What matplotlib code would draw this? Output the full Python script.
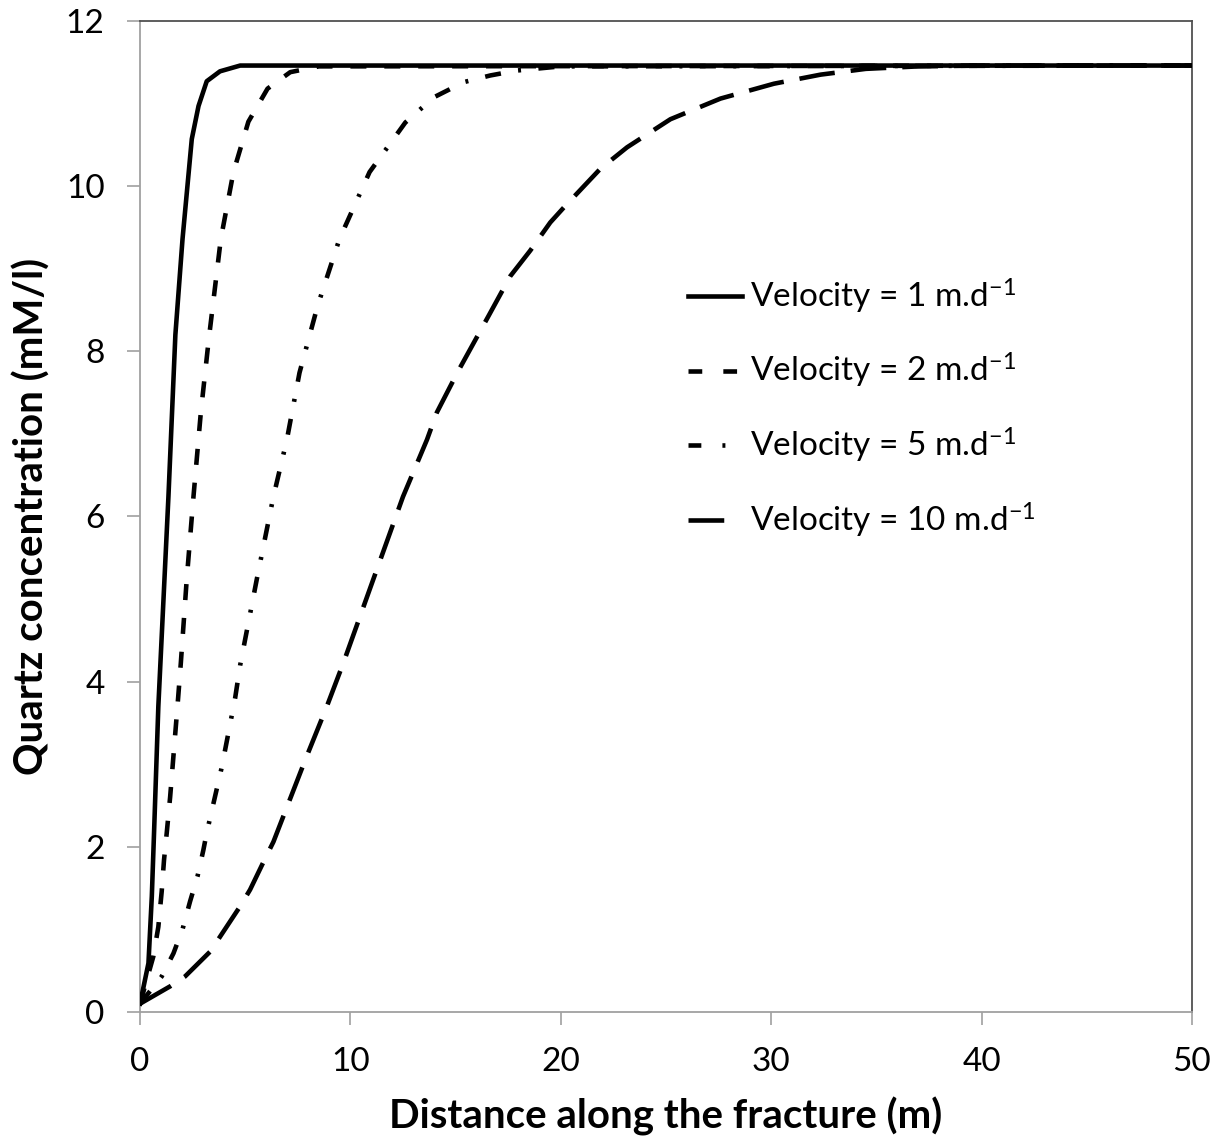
import matplotlib
matplotlib.use('Agg')
import matplotlib.pyplot as plt
from matplotlib.lines import Line2D

plt.rcParams['font.family'] = ['Lato', 'DejaVu Sans']
plt.rcParams['mathtext.fontset'] = 'custom'
plt.rcParams['mathtext.rm'] = 'Lato'
plt.rcParams['mathtext.it'] = 'Lato'

# values
x_v1 = [0, 0.4, 0.56, 0.67, 0.87, 1.35, 1.68, 2.02, 2.46, 2.78, 3.17, 3.8, 4.76, 50]
y_v1 = [0.1, 0.59, 1.4, 2.2, 3.7, 6.24, 8.2, 9.36, 10.57, 10.97, 11.27, 11.39, 11.46, 11.46]

x_v2 = [0, 0.63, 0.87, 1.03, 1.14, 1.27, 1.43, 1.81, 1.94, 2.22, 2.54, 2.89, 3.26,
        3.84, 4.44, 5.15, 6.06, 7.14, 8.5, 50]
y_v2 = [0.1, 0.67, 1.03, 1.46, 1.84, 2.17, 2.6, 3.8, 4.23, 5.24, 6.24, 7.26, 8.13,
        9.36, 10.17, 10.78, 11.18, 11.38, 11.45, 11.46]

x_v5 = [0, 1.03, 1.59, 2.03, 2.38, 2.73, 3.01, 3.17, 3.89, 4.52, 4.76, 5.55, 6.34,
        6.98, 7.58, 8.44, 9.48, 10.91, 12.61, 13.32, 14.0, 15.4, 16.65, 17.92, 20, 50]
y_v5 = [0.1, 0.43, 0.71, 1.01, 1.34, 1.64, 1.96, 2.17, 2.97, 3.8, 4.2, 5.24, 6.24,
        6.93, 7.74, 8.55, 9.36, 10.17, 10.77, 10.93, 11.08, 11.26, 11.34, 11.4, 11.45, 11.46]

x_v10 = [0, 1.43, 2.14, 3.33, 3.8, 4.76, 5.23, 5.95, 6.34, 7.85, 8.88, 9.67, 11.09,
         12.5, 13.64, 14.11, 15.1, 16.57, 17.6, 18.55, 19.5, 20.14, 21.25, 21.88,
         23.15, 25.21, 27.59, 30.13, 32.35, 34.5, 37, 40, 50]
y_v10 = [0.1, 0.31, 0.43, 0.73, 0.91, 1.28, 1.48, 1.86, 2.06, 3.05, 3.7, 4.23, 5.24,
         6.24, 6.93, 7.26, 7.75, 8.43, 8.91, 9.22, 9.56, 9.74, 10.04, 10.21,
         10.47, 10.81, 11.06, 11.24, 11.35, 11.42, 11.45, 11.46, 11.46]

labels = ['Velocity = 1 m.d$^{-1}$', 'Velocity = 2 m.d$^{-1}$',
          'Velocity = 5 m.d$^{-1}$', 'Velocity = 10 m.d$^{-1}$']

fig = plt.figure(figsize=(12.23, 11.45), dpi=100)
ax = fig.add_axes([0.1145, 0.1162, 0.8601, 0.8655])

lw = 3.3
ax.plot(x_v10, y_v10, color='black', lw=lw, dashes=(7.8, 3.5), zorder=2)
ax.plot(x_v5, y_v5, color='black', lw=lw, dashes=(3.5, 3.8, 0.65, 3.8), zorder=3)
ax.plot(x_v2, y_v2, color='black', lw=lw, dashes=(3.5, 3.9), zorder=4)
ax.plot(x_v1, y_v1, color='black', lw=lw, zorder=5)

ax.set_xlim(0, 50)
ax.set_ylim(0, 12)
ax.set_xticks(range(0, 51, 10))
ax.set_yticks(range(0, 13, 2))

for s in ['left', 'bottom']:
    ax.spines[s].set_color('#a0a0a0')
    ax.spines[s].set_linewidth(1.3)
for s in ['top', 'right']:
    ax.spines[s].set_color('#505050')
    ax.spines[s].set_linewidth(1.3)

ax.tick_params(axis='both', direction='out', length=9.5, width=1.2, color='#a0a0a0',
               labelsize=24, pad=16, labelcolor='black')

ax.set_xlabel('Distance along the fracture (m)', fontsize=29, fontweight='bold', labelpad=14)
ax.set_ylabel('Quartz concentration (mM/l)', fontsize=29, fontweight='bold', labelpad=11)

# legend samples
handles = [
    Line2D([], [], color='black', lw=lw),
    Line2D([], [], color='black', lw=lw, dashes=(3.0, 4.6)),
    Line2D([], [], color='black', lw=lw, dashes=(2.8, 4.6, 0.65, 6)),
    Line2D([], [], color='black', lw=lw, dashes=(7.8, 6)),
]
leg = ax.legend(handles, labels, loc='upper left', bbox_to_anchor=(0.521, 0.742),
                frameon=False, fontsize=24, handlelength=1.62, handletextpad=0.24,
                labelspacing=1.07, borderpad=0, borderaxespad=0)

fig.savefig('out.png', dpi=100)
